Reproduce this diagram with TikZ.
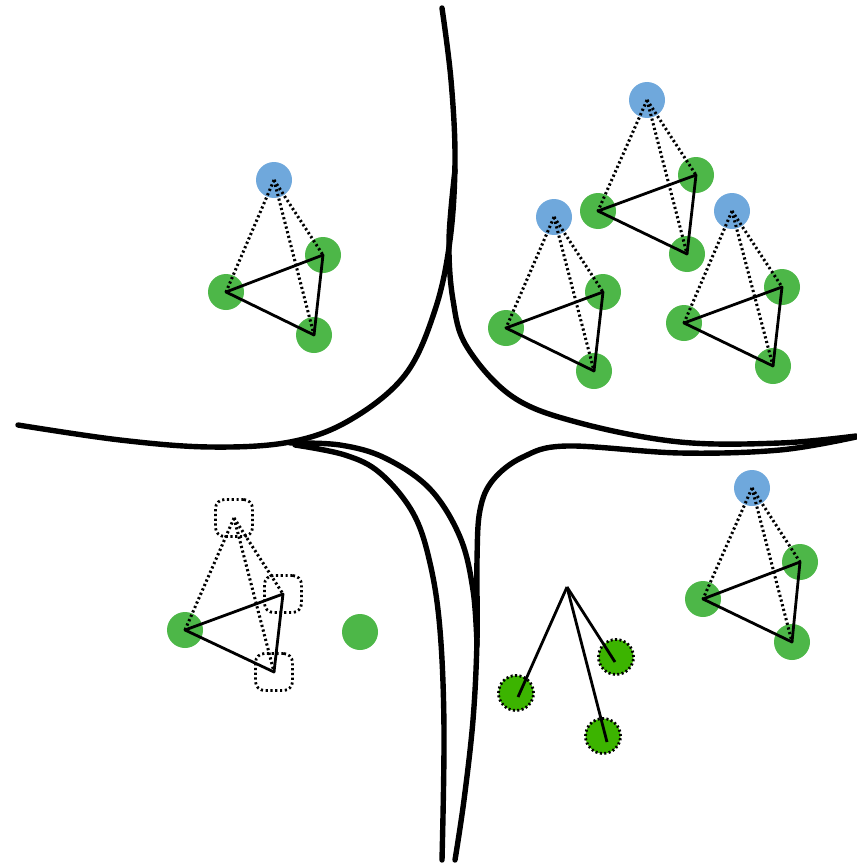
\documentclass[tikz,border=0pt]{standalone}
\usetikzlibrary{calc}
\definecolor{gr}{HTML}{4DB748}
\definecolor{gd}{HTML}{3CB400}
\definecolor{bl}{HTML}{6FA8DC}
\begin{document}
\begin{tikzpicture}[x=1pt,y=-1pt,
  curve/.style={line width=5.4pt,line cap=round,line join=round},
  gnode/.style={circle,fill=gr,minimum size=36pt,inner sep=0pt},
  bnode/.style={circle,fill=bl,minimum size=36pt,inner sep=0pt},
  dnode/.style={circle,fill=gd,minimum size=35pt,inner sep=0pt,draw=black,line width=2.8pt,dash pattern=on 2pt off 2.4pt},
  enode/.style={rectangle,rounded corners=9pt,minimum size=37pt,inner sep=0pt,draw=black,line width=2.8pt,dash pattern=on 2.2pt off 2.6pt},
  tri/.style={line width=2.8pt,line join=round},
  dot/.style={line width=3pt,dash pattern=on 2.2pt off 2.6pt}]
\useasboundingbox (0,0) rectangle (856,864);
% boundary curves
\draw[curve] plot[smooth,tension=0.6] coordinates {(442,8) (451,80) (455,160) (450,240) (435,310) (405,375) (350,420) (290,442) (210,447) (120,440) (18,425)};
\draw[curve] plot[smooth,tension=0.6] coordinates {(455,170) (449,240) (453,300) (467,347) (513,397) (580,423) (680,442) (780,443) (856,436)};
\draw[curve] plot[smooth,tension=0.6] coordinates {(856,437) (780,450) (680,453) (567,446) (523,457) (493,480) (480,510) (477,560) (477,640) (473,720) (464,800) (455,860)};
\draw[curve] plot[smooth,tension=0.6] coordinates {(290,443) (340,445) (385,458) (430,489) (460,537) (473,590) (477,645)};
\draw[curve] plot[smooth,tension=0.6] coordinates {(295,445) (345,455) (380,473) (413,513) (430,563) (440,630) (444,730) (442,860)};

% top-left group
\node[bnode] (b1) at (274,180) {};
\node[gnode] (g1a) at (323,255) {};
\node[gnode] (g1b) at (226,292) {};
\node[gnode] (g1c) at (314,335) {};
% top-right group 1
\node[bnode] (b2) at (647,100) {};
\node[gnode] (g2a) at (696,175) {};
\node[gnode] (g2b) at (598,211) {};
\node[gnode] (g2c) at (687,254) {};
% top-right group 2
\node[bnode] (b3) at (554,217) {};
\node[gnode] (g3a) at (603,292) {};
\node[gnode] (g3b) at (506,328) {};
\node[gnode] (g3c) at (594,371) {};
% top-right group 3
\node[bnode] (b4) at (732,211) {};
\node[gnode] (g4a) at (782,287) {};
\node[gnode] (g4b) at (684,323) {};
\node[gnode] (g4c) at (773,366) {};
% bottom-right group
\node[bnode] (b5) at (752,488) {};
\node[gnode] (g5a) at (800,562) {};
\node[gnode] (g5b) at (703,599) {};
\node[gnode] (g5c) at (792,642) {};
% bottom-left group
\node[enode] (e6) at (234,518) {};
\node[enode] (g6a) at (283,594) {};
\node[gnode] (g6b) at (185,630) {};
\node[enode] (g6c) at (274,672) {};
\node[gnode] (lone) at (360,632) {};

\foreach \b/\x/\y/\z in {b1/g1a/g1b/g1c, b2/g2a/g2b/g2c, b3/g3a/g3b/g3c, b4/g4a/g4b/g4c, b5/g5a/g5b/g5c, e6/g6a/g6b/g6c}{
  \draw[dot] (\b.center) -- (\x.center);
  \draw[dot] (\b.center) -- (\y.center);
  \draw[dot] (\b.center) -- (\z.center);
  \draw[tri] (\x.center) -- (\y.center) -- (\z.center) -- cycle;
}

% bottom-middle fan
\coordinate (apex) at (567,587);
\node[dnode] (d1) at (516,693) {};
\node[dnode] (d2) at (616,657) {};
\node[dnode] (d3) at (603,736) {};
\draw[tri] (d1.center) ++(2,4) coordinate (d1e) (apex) -- (d1e);
\draw[tri] (d2.center) ++(-1,5) coordinate (d2e) (apex) -- (d2e);
\draw[tri] (d3.center) ++(4,6) coordinate (d3e) (apex) -- (d3e);
\end{tikzpicture}
\end{document}
